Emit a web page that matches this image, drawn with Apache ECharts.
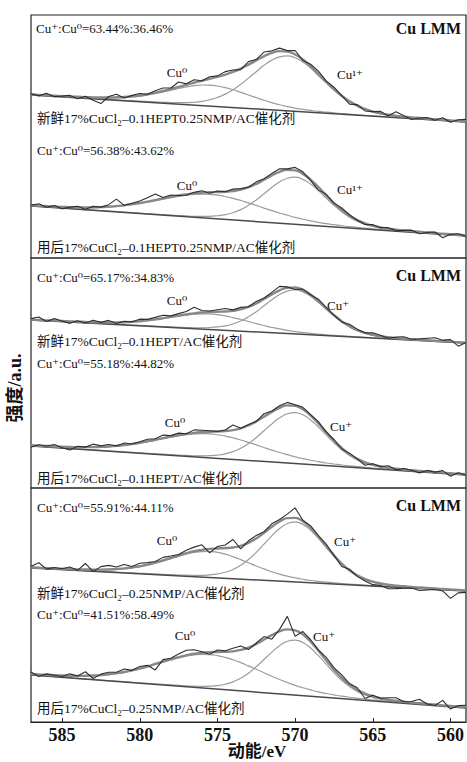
<!DOCTYPE html>
<html><head><meta charset="utf-8">
<script src="https://cdn.jsdelivr.net/npm/echarts@6/dist/echarts.min.js"></script>
<style>html,body{margin:0;padding:0;background:#fff}#c{width:467px;height:762px}</style>
</head><body><div id="c"></div>
<script>
// kinetic energy grid (eV)
const energy = [587,586.5,586,585.5,585,584.5,584,583.5,583,582.5,582,581.5,581,580.5,580,579.5,579,578.5,578,577.5,577,576.5,576,575.5,575,574.5,574,573.5,573,572.5,572,571.5,571,570.5,570,569.5,569,568.5,568,567.5,567,566.5,566,565.5,565,564.5,564,563.5,563,562.5,562,561.5,561,560.5,560,559.5,559];
const xTicks = [585,580,575,570,565,560];

// Spectrum A: fresh 17%CuCl2-0.1HEPT0.25NMP/AC (background ends at 587 / 559 eV, peak heights above background)
const bgA = [163,136];
const cu0A = [0.4,0.4,0.4,0.5,0.5,0.7,0.8,0.9,1.1,1.4,1.9,2.5,3.3,4.3,5.7,7.3,9.2,11.3,13.5,15.7,17.8,19.5,20.6,21,20.6,19.5,17.8,15.7,13.5,11.3,9.2,7.3,5.7,4.3,3.3,2.5,1.9,1.4,1.1,0.9,0.8,0.7,0.5,0.5,0.4,0.4,0.4,0.3,0.3,0.3,0.3,0.3,0.2,0.2,0.2,0.2,0.2];
const cupA = [0.2,0.2,0.3,0.3,0.3,0.3,0.3,0.3,0.4,0.4,0.4,0.5,0.5,0.6,0.6,0.7,0.8,0.9,1.2,1.5,2.0,2.9,4.2,6.3,9.1,12.9,17.8,23.7,30.4,37.3,44.2,49.8,53.6,55,53.6,49.8,44.2,37.3,30.4,23.7,17.8,12.9,9.1,6.3,4.2,2.9,2.0,1.5,1.2,0.9,0.8,0.7,0.6,0.6,0.5,0.5,0.4];
const resA = [1,-1,2,-1,0,1,-2,1,-3,-6,1,3,-1,1,2,0,2,3,1,5,1,3,0,2,1,3,2,-1,3,1,4,2,3,1,4,-1,2,3,1,2,0,-3,1,-2,0,2,-1,4,1,-2,0,1,-1,2,-2,1,2];

// Spectrum B: used 17%CuCl2-0.1HEPT0.25NMP/AC
const bgB = [52,22];
const cu0B = [0.6,0.6,0.8,0.9,1.1,1.4,1.7,2.2,2.7,3.5,4.4,5.5,6.8,8.4,10.1,12.0,14.0,16.1,18.1,20.0,21.6,22.9,23.7,24,23.7,22.9,21.6,20.0,18.1,16.1,14.0,12.0,10.1,8.4,6.8,5.5,4.4,3.5,2.7,2.2,1.7,1.4,1.1,0.9,0.8,0.6,0.6,0.5,0.5,0.4,0.4,0.4,0.3,0.3,0.3,0.3,0.3];
const cupB = [0.1,0.1,0.1,0.2,0.2,0.2,0.2,0.2,0.2,0.2,0.3,0.3,0.3,0.4,0.4,0.4,0.5,0.5,0.6,0.7,0.8,1.0,1.4,2.0,3.1,4.7,7.2,10.8,15.7,21.6,28.3,35.2,41.2,45.4,47,45.4,41.2,35.2,28.3,21.6,15.7,10.8,7.2,4.7,3.1,2.0,1.4,1.0,0.8,0.7,0.6,0.5,0.5,0.4,0.4,0.4,0.3];
const resB = [0,2,-1,1,-2,0,1,-2,1,0,2,7,0,1,2,4,6,1,2,0,-1,1,2,-1,1,0,2,1,0,2,1,2,3,1,3,2,-1,-3,1,0,2,1,0,-1,1,0,1,-1,0,1,-2,0,1,-4,0,1,-1];

// Spectrum C: fresh 17%CuCl2-0.1HEPT/AC
const bgC = [168,145];
const cu0C = [0.3,0.3,0.3,0.4,0.4,0.5,0.6,0.7,0.8,1.1,1.4,1.8,2.4,3.2,4.2,5.4,6.8,8.3,10.0,11.6,13.1,14.4,15.2,15.5,15.2,14.4,13.1,11.6,10.0,8.3,6.8,5.4,4.2,3.2,2.4,1.8,1.4,1.1,0.8,0.7,0.6,0.5,0.4,0.4,0.3,0.3,0.3,0.3,0.2,0.2,0.2,0.2,0.2,0.2,0.2,0.1,0.1];
const cupC = [0.1,0.1,0.1,0.2,0.2,0.2,0.2,0.2,0.2,0.2,0.3,0.3,0.3,0.3,0.4,0.4,0.4,0.5,0.5,0.6,0.7,0.9,1.3,1.9,2.9,4.4,6.7,10.1,14.7,20.2,26.5,32.9,38.6,42.5,44,42.5,38.6,32.9,26.5,20.2,14.7,10.1,6.7,4.4,2.9,1.9,1.3,0.9,0.7,0.6,0.5,0.5,0.4,0.4,0.4,0.3,0.3];
const resC = [1,3,-1,2,0,-2,1,-1,2,0,2,-1,1,0,2,1,2,3,1,2,3,6,2,1,2,3,1,2,0,2,1,2,4,1,-2,1,0,2,1,0,-1,2,1,0,2,1,-1,1,2,0,1,2,3,1,2,-4,0];

// Spectrum D: used 17%CuCl2-0.1HEPT/AC
const bgD = [42,13];
const cu0D = [0.6,0.6,0.8,0.9,1.1,1.4,1.7,2.2,2.7,3.5,4.4,5.5,6.8,8.4,10.1,12.0,14.0,16.1,18.1,20.0,21.6,22.9,23.7,24,23.7,22.9,21.6,20.0,18.1,16.1,14.0,12.0,10.1,8.4,6.8,5.5,4.4,3.5,2.7,2.2,1.7,1.4,1.1,0.9,0.8,0.6,0.6,0.5,0.5,0.4,0.4,0.4,0.3,0.3,0.3,0.3,0.3];
const cupD = [0.2,0.2,0.2,0.2,0.2,0.2,0.2,0.3,0.3,0.3,0.3,0.3,0.4,0.4,0.4,0.5,0.5,0.6,0.6,0.7,0.9,1.1,1.5,2.2,3.3,5.1,7.8,11.7,17.0,23.5,30.8,38.1,44.7,49.3,51,49.3,44.7,38.1,30.8,23.5,17.0,11.7,7.8,5.1,3.3,2.2,1.5,1.1,0.9,0.7,0.6,0.6,0.5,0.5,0.4,0.4,0.4];
const resD = [-2,1,0,2,-1,-3,1,0,3,1,2,0,2,0,1,2,1,3,1,2,0,3,2,1,0,1,5,0,1,0,3,1,2,3,1,2,1,2,0,1,-1,1,0,-3,1,0,2,-1,1,0,-2,1,0,2,-3,1,-1];

// Spectrum E: fresh 17%CuCl2-0.25NMP/AC
const bgE = [154,131];
const cu0E = [0.5,0.5,0.5,0.6,0.7,0.8,0.9,1.1,1.4,1.8,2.3,3.1,4.1,5.4,7.0,9.0,11.4,13.9,16.7,19.5,22.0,24.2,25.5,26,25.5,24.2,22.0,19.5,16.7,13.9,11.4,9.0,7.0,5.4,4.1,3.1,2.3,1.8,1.4,1.1,0.9,0.8,0.7,0.6,0.5,0.5,0.5,0.4,0.4,0.4,0.3,0.3,0.3,0.3,0.3,0.2,0.2];
const cupE = [0.2,0.2,0.2,0.2,0.2,0.2,0.2,0.3,0.3,0.3,0.4,0.4,0.4,0.5,0.5,0.5,0.6,0.7,0.7,0.8,1.0,1.3,1.7,2.6,3.9,6.0,9.2,13.8,20.0,27.6,36.2,44.9,52.6,58.0,60,58.0,52.6,44.9,36.2,27.6,20.0,13.8,9.2,6.0,3.9,2.6,1.7,1.3,1.0,0.8,0.7,0.7,0.6,0.5,0.5,0.5,0.4];
const resE = [1,5,-1,1,0,2,-1,6,-2,3,4,2,4,1,3,2,1,3,2,1,3,4,5,-4,2,3,8,-3,2,3,1,3,2,4,10,1,2,1,2,0,-3,1,-1,-2,-3,-2,-4,-3,-2,-1,-3,-2,-1,-2,-9,-3,-2];

// Spectrum F: used 17%CuCl2-0.25NMP/AC
const bgF = [47,14];
const cu0F = [0.8,0.9,1.1,1.3,1.6,1.9,2.4,3.1,3.9,4.9,6.3,7.9,9.7,11.9,14.3,17.0,19.9,22.8,25.6,28.3,30.6,32.4,33.6,34,33.6,32.4,30.6,28.3,25.6,22.8,19.9,17.0,14.3,11.9,9.7,7.9,6.3,4.9,3.9,3.1,2.4,1.9,1.6,1.3,1.1,0.9,0.8,0.7,0.6,0.6,0.5,0.5,0.5,0.4,0.4,0.4,0.4];
const cupF = [0.2,0.2,0.2,0.2,0.2,0.2,0.2,0.3,0.3,0.3,0.3,0.4,0.4,0.4,0.4,0.5,0.6,0.6,0.7,0.8,0.9,1.2,1.6,2.4,3.6,5.5,8.4,12.7,18.3,25.3,33.2,41.1,48.2,53.2,55,53.2,48.2,41.1,33.2,25.3,18.3,12.7,8.4,5.5,3.6,2.4,1.6,1.2,0.9,0.8,0.7,0.6,0.6,0.5,0.4,0.4,0.4];
const resF = [2,-2,1,0,-1,2,0,4,-3,1,2,1,3,0,2,1,-6,2,1,3,5,4,1,-2,2,1,3,4,-2,1,3,-4,2,13,-6,3,2,1,3,2,3,1,2,-5,1,0,2,3,0,1,4,0,-1,5,-3,1,2];

// texts
const ratioTexts = ['Cu⁺:Cu⁰=63.44%:36.46%','Cu⁺:Cu⁰=56.38%:43.62%','Cu⁺:Cu⁰=65.17%:34.83%','Cu⁺:Cu⁰=55.18%:44.82%','Cu⁺:Cu⁰=55.91%:44.11%','Cu⁺:Cu⁰=41.51%:58.49%'];
const sampleTexts = ['新鲜17%CuCl₂–0.1HEPT0.25NMP/AC催化剂','用后17%CuCl₂–0.1HEPT0.25NMP/AC催化剂','新鲜17%CuCl₂–0.1HEPT/AC催化剂','用后17%CuCl₂–0.1HEPT/AC催化剂','新鲜17%CuCl₂–0.25NMP/AC催化剂','用后17%CuCl₂–0.25NMP/AC催化剂'];
const peakNames = [['Cu⁰','Cu¹⁺'],['Cu⁰','Cu¹⁺'],['Cu⁰','Cu⁺'],['Cu⁰','Cu⁺'],['Cu⁰','Cu⁺'],['Cu⁰','Cu⁺']];
const panelTitle = 'Cu LMM';
const xName = '动能/eV';
const yName = '强度/a.u.';

// layout
const grids = [{top:15,height:243},{top:258,height:230},{top:488,height:234}];
const spectra = [
  {bg:bgA,c0:cu0A,c1:cupA,res:resA,g:0},
  {bg:bgB,c0:cu0B,c1:cupB,res:resB,g:0},
  {bg:bgC,c0:cu0C,c1:cupC,res:resC,g:1},
  {bg:bgD,c0:cu0D,c1:cupD,res:resD,g:1},
  {bg:bgE,c0:cu0E,c1:cupE,res:resE,g:2},
  {bg:bgF,c0:cu0F,c1:cupF,res:resF,g:2}
];
const E0 = energy[0], E1 = energy[energy.length-1];
function bgAt(bg,e){ return bg[0] + (bg[1]-bg[0])*(E0-e)/(E0-E1); }

const SERIF = '"Liberation Serif","DejaVu Serif","Noto Sans CJK SC",serif';
const series = [];
spectra.forEach(s=>{
  const base = {type:'line',xAxisIndex:s.g,yAxisIndex:s.g,symbol:'none',silent:true,animation:false};
  const c0 = energy.map((e,i)=>[e, bgAt(s.bg,e)+s.c0[i]]);
  const c1 = energy.map((e,i)=>[e, bgAt(s.bg,e)+s.c1[i]]);
  const fit = energy.map((e,i)=>[e, bgAt(s.bg,e)+s.c0[i]+s.c1[i]]);
  const raw = energy.map((e,i)=>[e, bgAt(s.bg,e)+s.c0[i]+s.c1[i]+s.res[i]]);
  series.push(Object.assign({},base,{data:c0,smooth:true,lineStyle:{color:'#9c9c9c',width:1.2}}));
  series.push(Object.assign({},base,{data:c1,smooth:true,lineStyle:{color:'#9c9c9c',width:1.2}}));
  series.push(Object.assign({},base,{data:[[E0,s.bg[0]],[E1,s.bg[1]]],lineStyle:{color:'#4a4a4a',width:1.5}}));
  series.push(Object.assign({},base,{data:fit,smooth:true,lineStyle:{color:'#888',width:2.4}}));
  series.push(Object.assign({},base,{data:raw,lineStyle:{color:'#2e2e2e',width:1.1}}));
});

function xAx(gi){
  const bottom = gi===2;
  return {type:'value',gridIndex:gi,min:559,max:587,inverse:true,show:bottom,
    axisLine:{show:true,lineStyle:{color:'#222',width:1.2}},
    axisTick:{show:true,inside:true,length:4,customValues:xTicks,lineStyle:{color:'#222'}},
    axisLabel:{show:true,customValues:xTicks,color:'#111',fontSize:18,fontWeight:'bold',fontFamily:SERIF,margin:4},
    splitLine:{show:false}};
}
function txt(x,y,t,opt){
  opt = opt||{};
  return {type:'text',x:x,y:y,rotation:opt.rot||0,silent:true,z:100,
    style:{text:t,fill:'#111',font:(opt.bold?'bold ':'')+(opt.size||13)+'px '+SERIF,
      textAlign:opt.align||'left',align:opt.align||'left',textVerticalAlign:'middle',verticalAlign:'middle'}};
}
const ratioPos = [[36,28],[37,150],[37,277],[37,363],[37,507],[37,614]];
const samplePos = [[37,118],[37,247],[37,341],[37,478],[37,593],[37,708]];
const cu0Pos = [[177,72],[187,185],[177,300],[175,422],[167,540],[185,635]];
const cupPos = [[350,74],[350,189],[338,305],[341,426],[345,541],[324,636]];
const titleY = [28,275,505];
const graphics = [];
for(let i=0;i<6;i++){
  graphics.push(txt(ratioPos[i][0],ratioPos[i][1],ratioTexts[i],{size:13}));
  graphics.push(txt(samplePos[i][0],samplePos[i][1],sampleTexts[i],{size:13.5}));
  graphics.push(txt(cu0Pos[i][0],cu0Pos[i][1],peakNames[i][0],{size:13,align:'center'}));
  graphics.push(txt(cupPos[i][0],cupPos[i][1],peakNames[i][1],{size:13,align:'center'}));
}
titleY.forEach(y=>graphics.push(txt(461,y,panelTitle,{size:16,bold:true,align:'right'})));
graphics.push(txt(257,751,xName,{size:17,bold:true,align:'center'}));
graphics.push(txt(15,388,yName,{size:18,bold:true,align:'center',rot:Math.PI/2}));

const chart = echarts.init(document.getElementById('c'),null,{renderer:'svg'});
chart.setOption({
  animation:false,
  backgroundColor:'#fff',
  grid:grids.map(g=>({left:31,right:1,top:g.top,height:g.height,show:true,borderColor:'#222',borderWidth:1.2,backgroundColor:'transparent'})),
  xAxis:[0,1,2].map(xAx),
  yAxis:grids.map((g,i)=>({type:'value',gridIndex:i,min:0,max:g.height,show:false})),
  series:series,
  graphic:graphics
});
</script></body></html>
